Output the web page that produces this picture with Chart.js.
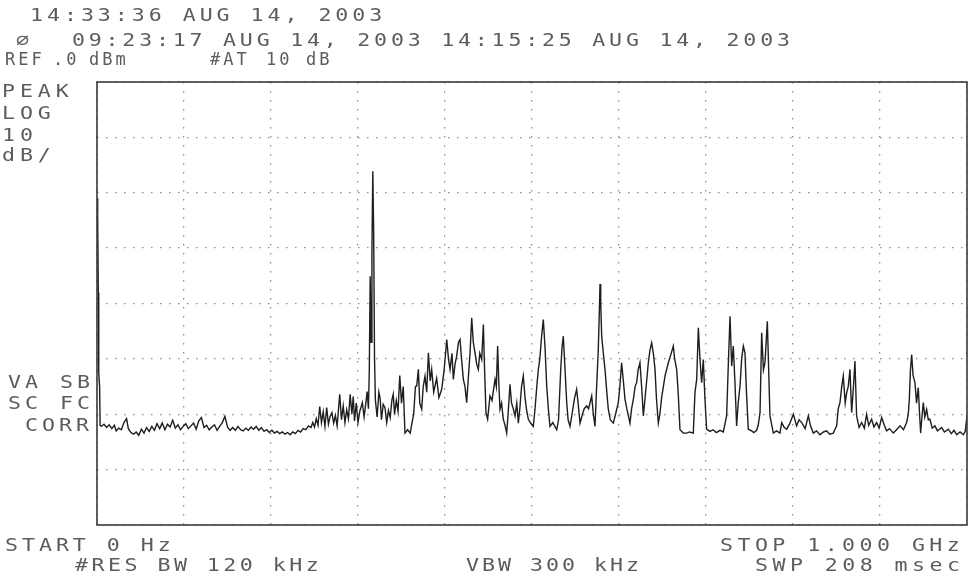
<!DOCTYPE html>
<html>
<head>
<meta charset="utf-8">
<title>Spectrum 0 Hz - 1 GHz</title>
<script src="https://cdn.jsdelivr.net/npm/chart.js@4.4.0/dist/chart.umd.min.js"></script>
<style>
  html, body { margin: 0; padding: 0; background: #fff; }
  #wrap { position: relative; width: 971px; height: 581px; overflow: hidden; }
  #chart { position: absolute; left: 0; top: 0; }
  .t {
    position: absolute;
    font-family: "DejaVu Sans Mono", "Liberation Mono", monospace;
    font-size: 18px;
    line-height: 18px;
    color: #5c5c5c;
    white-space: pre;
    transform: scaleX(1.2);
    transform-origin: 0 0;
  }
  .s { font-size: 17px; line-height: 17px; letter-spacing: 3px; transform: none; }
</style>
</head>
<body>
<div id="wrap">
  <canvas id="chart" width="971" height="581"></canvas>

  <!-- header -->
  <div class="t" style="left:30px; top:6px; letter-spacing:3.3px">14:33:36 AUG 14, 2003</div>
  <div class="t" style="left:16px; top:31px">⌀</div>
  <div class="t" style="left:72px; top:31px; letter-spacing:3.15px">09:23:17 AUG 14, 2003 14:15:25 AUG 14, 2003</div>
  <div class="t s" style="left:5px; top:51px">REF</div>
  <div class="t s" style="left:53px; top:51px">.0</div>
  <div class="t s" style="left:89px; top:51px">dBm</div>
  <div class="t s" style="left:210px; top:51px">#AT</div>
  <div class="t s" style="left:266px; top:51px">10</div>
  <div class="t s" style="left:306px; top:51px">dB</div>

  <!-- left side -->
  <div class="t" style="left:2px; top:82px; letter-spacing:4.1px">PEAK</div>
  <div class="t" style="left:2px; top:104px; letter-spacing:4.1px">LOG</div>
  <div class="t" style="left:2px; top:126px; letter-spacing:4.1px">10</div>
  <div class="t" style="left:2px; top:146px; letter-spacing:4.1px">dB/</div>
  <div class="t" style="left:8px; top:373px; letter-spacing:3.3px">VA</div>
  <div class="t" style="left:60px; top:373px; letter-spacing:3.3px">SB</div>
  <div class="t" style="left:8px; top:394px; letter-spacing:3.3px">SC</div>
  <div class="t" style="left:60px; top:394px; letter-spacing:3.3px">FC</div>
  <div class="t" style="left:25px; top:416px; letter-spacing:3.3px">CORR</div>

  <!-- footer -->
  <div class="t" style="left:5px; top:536px; letter-spacing:3.3px">START 0 Hz</div>
  <div class="t" style="left:75px; top:556px; letter-spacing:2.9px">#RES BW 120 kHz</div>
  <div class="t" style="left:466px; top:556px; letter-spacing:2.5px">VBW 300 kHz</div>
  <div class="t" style="left:720px; top:536px; letter-spacing:3.7px">STOP 1.000 GHz</div>
  <div class="t" style="left:755px; top:556px; letter-spacing:3.7px">SWP 208 msec</div>
</div>

<script>
// trace readings: frequency (MHz) and level (dBm)
const freqMHz = [
  0, 0.5, 1, 1.5, 2, 3, 3.6, 5, 8, 11,
  14, 17, 20, 22, 25, 28, 31, 34, 36, 39,
  42, 45, 48, 51, 54, 57, 60, 63, 66, 69,
  72, 75, 78, 81, 84, 87, 90, 93, 96, 99,
  102, 105, 108, 111, 114, 117, 120, 123, 126, 129,
  132, 135, 138, 141, 144, 147, 150, 153, 156, 159,
  162, 165, 168, 171, 174, 177, 180, 183, 186, 189,
  192, 195, 198, 201, 204, 207, 210, 213, 216, 219,
  222, 225, 228, 231, 234, 237, 240, 243, 246, 248,
  250, 252, 254, 256, 258, 260, 262, 264, 266, 268,
  270, 272, 274, 276, 279, 281, 283, 285, 287, 289,
  291, 293, 294.5, 296, 298, 300, 302, 305, 307, 309,
  310.5, 312, 313, 314, 315, 316, 317, 318, 319, 320,
  322, 324, 325.5, 327, 329, 331, 333, 335, 337, 339,
  340.5, 342, 344, 346, 348, 350, 352, 354, 357, 360,
  362, 364, 366, 367.5, 369.4, 371, 373.2, 375, 377, 379,
  380.9, 383, 384.7, 387, 390.4, 393, 396.2, 399, 402, 404,
  405.8, 408, 409.6, 411.5, 413.4, 415.5, 417.3, 419, 421.1, 423,
  424.9, 427, 428.8, 430.7, 432.5, 434.5, 436.5, 438.3, 440, 442.2,
  444.1, 445.5, 447.1, 449, 451.7, 454, 457.5, 459, 460.5, 462,
  463.2, 465, 467, 469, 470.9, 472.5, 474.7, 476.5, 478.5, 480.5,
  482.5, 484.3, 486, 488, 490, 492, 494, 495.8, 498, 501.5,
  503.5, 505.5, 507.3, 509, 511, 513, 515, 516.9, 518.8, 520.7,
  524, 528.4, 530.5, 533, 534.5, 536, 538, 539.9, 541.5, 543.7,
  546, 549, 551.3, 553, 555.2, 558, 560, 562.8, 565, 568.6,
  570.5, 572.4, 574.3, 576.2, 577.3, 578.2, 579, 580.1, 582, 583.9,
  586, 587.7, 590, 593.5, 596, 599.2, 601, 603, 605, 606.9,
  609, 612.6, 614.5, 616.5, 618.5, 620.3, 622, 624.1, 626, 628,
  630, 631.8, 633.7, 635.5, 637.5, 639.5, 641.4, 643, 645.2, 647,
  649, 651, 653, 656.7, 660, 662.4, 664, 666.3, 668, 670.1,
  674, 677.8, 681, 685.4, 687.3, 689.3, 691.2, 693.1, 695, 696.9,
  698.8, 700.7, 704.6, 708, 712, 716, 719.9, 723.7, 725.6, 727.6,
  729.5, 731.4, 733.3, 735.2, 737, 739.1, 741, 742.9, 744.8, 746.5,
  748.6, 752.5, 755, 758.2, 760, 762.1, 764, 766, 767.8, 770.5,
  773.5, 777.4, 781, 785, 787, 790, 792.7, 796, 800.4, 804.2,
  807, 810, 814, 817.6, 820, 823.3, 827, 831, 835, 838.7,
  842, 846.3, 848, 850.2, 852, 854, 856, 857.8, 860, 861.7,
  863.5, 865.5, 867.4, 869.5, 871.2, 873.1, 876, 878.9, 882, 884.6,
  887, 890.4, 893, 896.1, 899, 901.9, 905, 907.6, 911, 915.3,
  919, 923, 927, 930.6, 932.5, 933.7, 935, 936.4, 938, 940.2,
  942, 944, 945.5, 946.7, 948.5, 949.8, 951.5, 953.6, 955.5, 957.4,
  960, 963.2, 966, 970.8, 974, 978.5, 982, 985, 988.1, 992,
  995.7, 998, 1000
];

const levelDbm = [
  -21, -22, -24, -38, -52.5, -55, -62, -62.2, -61.8, -62.4,
  -61.9, -62.6, -62, -63, -62.5, -62.8, -61.5, -60.8, -62.6, -63.3,
  -63.6, -63.2, -63.8, -62.7, -63.4, -62.4, -63.1, -62.2, -62.9, -61.7,
  -62.6, -61.6, -62.8, -61.8, -62.3, -61.1, -62.5, -61.9, -62.8, -62.2,
  -61.7, -62.6, -62.1, -61.6, -62.7, -61.2, -60.6, -62.4, -62, -62.8,
  -62.3, -61.9, -62.9, -62.2, -61.5, -60.4, -62.3, -62.9, -62.4, -62.9,
  -62.2, -62.8, -63, -62.5, -62.9, -62.3, -62.7, -62.2, -62.9, -62.4,
  -63.1, -62.8, -63.3, -62.9, -63.4, -63.1, -63.5, -63.2, -63.6, -63.3,
  -63.7, -63.2, -63.5, -62.9, -63.2, -62.6, -62.8, -62.1, -62.4, -61.5,
  -62.3, -60.8, -62, -58.6, -61.5, -59.6, -62.2, -58.8, -61.8, -60.4,
  -59.7, -61.6, -60.2, -62.1, -56.4, -61, -58.5, -61.5, -59.2, -60.8,
  -56.4, -60, -56.8, -61.2, -58, -61.5, -59.5, -57.9, -60.5, -58,
  -55.9, -59, -52, -35.1, -47, -31, -16.1, -27, -50, -57.5,
  -60.5, -56, -57.2, -61, -58.2, -58.8, -61.5, -59.3, -60.6, -57.4,
  -56.4, -60, -57.5, -59.5, -53, -58, -55, -63.4, -62.8, -63.4,
  -61.6, -60, -55, -54.9, -51.9, -58, -59.1, -55, -53.1, -56,
  -48.9, -54, -51.9, -56, -53.5, -57, -55.5, -52, -46.5, -50,
  -51.9, -49, -53.7, -51, -49.5, -47, -46.5, -50, -53.7, -55,
  -57.9, -53, -48.9, -42.6, -47, -48.9, -51, -51.9, -49, -50.1,
  -43.8, -52, -59.7, -60.9, -56.7, -57.5, -53.7, -55, -47.7, -55,
  -59.1, -58, -60.9, -62, -63.4, -60, -54.6, -58, -59, -60.3,
  -58, -61.6, -59, -55, -53.1, -57, -59.5, -60.9, -61.5, -62.2,
  -59, -55, -51.9, -50, -46, -42.9, -48, -54.9, -59, -62.2,
  -61.5, -62.8, -61, -52, -48, -45.9, -52, -57.9, -61, -62.2,
  -60, -57, -55.5, -58, -61.6, -60, -59, -58.5, -59, -56.7,
  -60, -62.2, -55, -48.3, -42, -36.5, -40, -45.9, -49, -51.9,
  -56, -59.1, -61, -61.6, -60, -57.9, -55, -50.7, -54, -57.3,
  -59, -61.6, -59, -57.3, -55, -54.3, -52, -50.7, -55, -60.3,
  -57, -54, -50.7, -48.5, -47.1, -49, -51.9, -57, -61.6, -60,
  -57, -55, -53, -50.7, -49, -47.7, -50, -51.9, -56, -62.8,
  -63.4, -63.4, -63.2, -63.4, -56.1, -53.7, -44.4, -50.1, -54.3, -50.1,
  -57.3, -62.7, -63.1, -62.8, -63.3, -62.9, -63.2, -60.3, -51.3, -42.3,
  -51.3, -47.7, -54.3, -62.1, -58, -54.9, -50, -47.7, -48.9, -56,
  -62.7, -63, -63.3, -62.9, -62, -59.7, -45.3, -52, -50.7, -43.2,
  -60.3, -63.4, -63, -63.4, -61.5, -62.4, -62.7, -61.8, -60, -62.1,
  -61, -61.5, -62.6, -60.3, -62, -63.4, -63, -63.7, -63.2, -63,
  -63.6, -63.4, -62.8, -62.1, -59, -57.9, -55, -53.1, -58, -56.1,
  -55, -51.9, -59.7, -55, -50.4, -60.3, -62.4, -61.5, -62.5, -60,
  -62, -60.9, -62.3, -61.5, -62.5, -60.6, -62, -63, -62.6, -63.4,
  -62.8, -62.1, -62.8, -61.5, -60, -57.3, -52, -49.2, -53, -54.3,
  -58, -55.2, -60, -63.4, -60, -57.9, -60.5, -59.1, -61, -60.9,
  -62.5, -62.1, -63, -62.4, -63.2, -62.7, -63.5, -62.9, -63.7, -63.2,
  -63.7, -63.1, -60.3
];

// screen setup: 0 Hz .. 1 GHz, REF 0 dBm, 10 dB/div, 8 divisions
const startMHz = 0, stopMHz = 1000, spanStep = 100;
const refDbm = 0, dbPerDiv = 10, divisions = 8;

if (freqMHz.length !== levelDbm.length) console.error("trace arrays differ", freqMHz.length, levelDbm.length);

// solid frame round the graticule
const framePlugin = {
    id: "frame",
    afterDatasetsDraw(chart) {
        const { ctx, chartArea: a } = chart;
        ctx.save();
        ctx.strokeStyle = "#3a3a3a";
        ctx.lineWidth = 1.6;
        ctx.strokeRect(a.left, a.top, a.right - a.left, a.bottom - a.top);
        ctx.restore();
    }
};

const gridDots = { color: "#8c8c8c", lineWidth: 1.3, drawTicks: false, borderDash: [1.5, 7.5] };

new Chart(document.getElementById("chart"), {
    type: "line",
    data: {
        datasets: [{
            data: freqMHz.map((f, i) => ({ x: f, y: levelDbm[i] })),
            borderColor: "#1e1e1e",
            borderWidth: 1.4,
            pointRadius: 0,
            tension: 0,
            fill: false
        }]
    },
    options: {
        responsive: false,
        animation: false,
        layout: { padding: { left: 97, top: 82, right: 4, bottom: 56 } },
        plugins: { legend: { display: false }, tooltip: { enabled: false } },
        scales: {
            x: {
                type: "linear",
                min: startMHz,
                max: stopMHz,
                ticks: { stepSize: spanStep, display: false },
                grid: gridDots,
                border: { display: false, dash: [1.5, 7.5] }
            },
            y: {
                type: "linear",
                min: refDbm - dbPerDiv * divisions,
                max: refDbm,
                ticks: { stepSize: dbPerDiv, display: false },
                grid: gridDots,
                border: { display: false, dash: [1.5, 7.5] }
            }
        }
    },
    plugins: [framePlugin]
});
</script>
</body>
</html>
